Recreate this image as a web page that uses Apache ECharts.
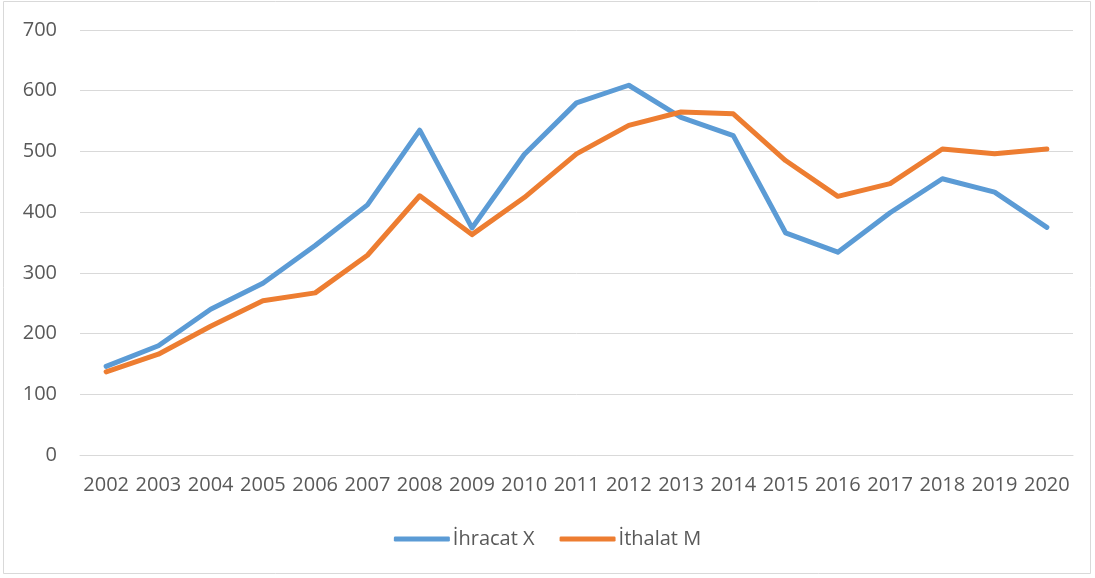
<!DOCTYPE html>
<html>
<head>
<meta charset="utf-8">
<script src="https://cdn.jsdelivr.net/npm/echarts@6/dist/echarts.min.js"></script>
<style>
  html, body { margin: 0; padding: 0; background: #fff; }
  #chart { width: 1095px; height: 578px; }
</style>
</head>
<body>
<div id="chart"></div>
<script>
const years = ['2002', '2003', '2004', '2005', '2006', '2007', '2008', '2009', '2010', '2011',
  '2012', '2013', '2014', '2015', '2016', '2017', '2018', '2019', '2020']

// İhracat X
const exportsX = [146, 180, 240, 283, 345, 412, 535, 374, 495, 580,
  609, 556, 526, 366, 334, 399, 455, 433, 375]

// İthalat M
const importsM = [137, 166, 212, 254, 267, 329, 427, 363, 424, 496,
  543, 565, 562, 485, 426, 447, 504, 496, 504]

const font = '"Open Sans", sans-serif'
const textColor = '#595959'

const chart = echarts.init(document.getElementById('chart'), null, { renderer: 'canvas' })

chart.setOption({
  animation: false,
  backgroundColor: '#fff',
  graphic: [{
    type: 'rect',
    shape: { x: 3.5, y: 1.5, width: 1087, height: 572 },
    style: { fill: 'none', stroke: '#d9d9d9', lineWidth: 1 },
    silent: true
  }],
  grid: {
    left: 80,
    right: 22,
    top: 30,
    bottom: 123
  },
  legend: {
    top: 524,
    left: 'center',
    icon: 'roundRect',
    itemWidth: 56,
    itemHeight: 5,
    itemGap: 25,
    textStyle: { color: textColor, fontSize: 20, fontFamily: font, padding: [0, 0, 0, -2] },
    data: ['İhracat X', 'İthalat M']
  },
  xAxis: {
    type: 'category',
    boundaryGap: true,
    data: years,
    axisLine: { show: true, lineStyle: { color: '#d9d9d9', width: 1 } },
    axisTick: { show: false },
    axisLabel: { color: textColor, fontSize: 20, fontFamily: font, margin: 20, interval: 0 }
  },
  yAxis: {
    type: 'value',
    min: 0,
    max: 700,
    interval: 100,
    axisLine: { show: false },
    axisTick: { show: false },
    axisLabel: { color: textColor, fontSize: 20, fontFamily: font, margin: 23 },
    splitLine: { lineStyle: { color: '#d9d9d9', width: 1 } }
  },
  series: [{
    name: 'İhracat X',
    type: 'line',
    symbol: 'none',
    data: exportsX,
    itemStyle: { color: '#5b9bd5' },
    lineStyle: { color: '#5b9bd5', width: 5, cap: 'round', join: 'round' }
  }, {
    name: 'İthalat M',
    type: 'line',
    symbol: 'none',
    data: importsM,
    itemStyle: { color: '#ed7d31' },
    lineStyle: { color: '#ed7d31', width: 5, cap: 'round', join: 'round' }
  }]
})
</script>
</body>
</html>
